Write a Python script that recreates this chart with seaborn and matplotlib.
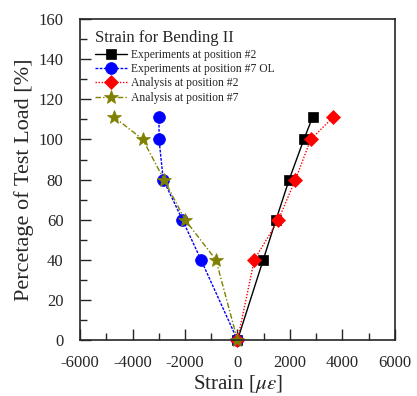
import matplotlib
matplotlib.use("Agg")
import matplotlib.pyplot as plt
import seaborn as sns
import pandas as pd
from matplotlib.ticker import MultipleLocator

sns.set_style("ticks")
plt.rcParams['font.family'] = ['Liberation Serif', 'DejaVu Serif']
plt.rcParams['mathtext.fontset'] = 'stix'
plt.rcParams['axes.unicode_minus'] = False

load = [0, 40, 60, 80, 100, 111]
exp_pos2 = [0, 980, 1470, 1970, 2530, 2860]
exp_pos7 = [0, -1390, -2100, -2830, -2990, -2990]
ana_pos2 = [0, 640, 1560, 2210, 2790, 3640]
ana_pos7 = [0, -820, -2000, -2800, -3610, -4690]

labels = ["Experiments at position #2", "Experiments at position #7 OL",
          "Analysis at position #2", "Analysis at position #7"]
colors = ["black", "blue", "red", "#808000"]
markers = ["s", "o", "D", "*"]
msizes = [7.5, 8.5, 7.5, 10]
dashes = [(None, None), (2, 1), (1, 1.2), (4, 1.5, 1, 1.5)]

fig = plt.figure(figsize=(4.17, 3.96), dpi=100)
ax = fig.add_axes([0.192, 0.141, 0.755, 0.811])

for xs, lab, c, m, ms, d in zip([exp_pos2, exp_pos7, ana_pos2, ana_pos7], labels, colors, markers, msizes, dashes):
    df = pd.DataFrame({"strain": xs, "load": load})
    sns.lineplot(data=df, x="strain", y="load", sort=False, estimator=None, ax=ax,
                 color=c, marker=m, markersize=ms, markeredgewidth=0.5, markeredgecolor=c,
                 linewidth=1.0, label=lab, clip_on=False)
    line = ax.get_lines()[-1]
    if d[0] is not None:
        line.set_dashes(d)

ax.set_xlim(-6000, 6000)
ax.set_ylim(0, 160)
ax.xaxis.set_major_locator(MultipleLocator(2000))
ax.xaxis.set_minor_locator(MultipleLocator(1000))
ax.yaxis.set_major_locator(MultipleLocator(20))
ax.yaxis.set_minor_locator(MultipleLocator(10))
ax.tick_params(which='both', direction='in', labelsize=12, top=False, right=False)
ax.tick_params(axis='x', which='major', pad=11)
ax.tick_params(axis='y', which='major', pad=12)
ax.tick_params(which='major', length=8, width=1)
ax.tick_params(which='minor', length=5, width=1)
for lbl in ax.get_yticklabels():
    lbl.set_verticalalignment('center_baseline')
for s in ax.spines.values():
    s.set_linewidth(1.2)
    s.set_visible(True)

ax.set_xlabel(r"Strain [$\mu\varepsilon$]", fontsize=15, labelpad=1)
ax.set_ylabel("Percetage of Test Load [%]", fontsize=16, labelpad=3)

leg = ax.legend(loc='upper left', bbox_to_anchor=(0.02, 0.99), frameon=False,
                title="Strain for Bending II",
                fontsize=8.4, title_fontsize=12, handlelength=2.8, labelspacing=0.2,
                borderaxespad=0.3, handletextpad=0.3)
leg._legend_box.align = "left"

fig.savefig("out.png", dpi=100)
